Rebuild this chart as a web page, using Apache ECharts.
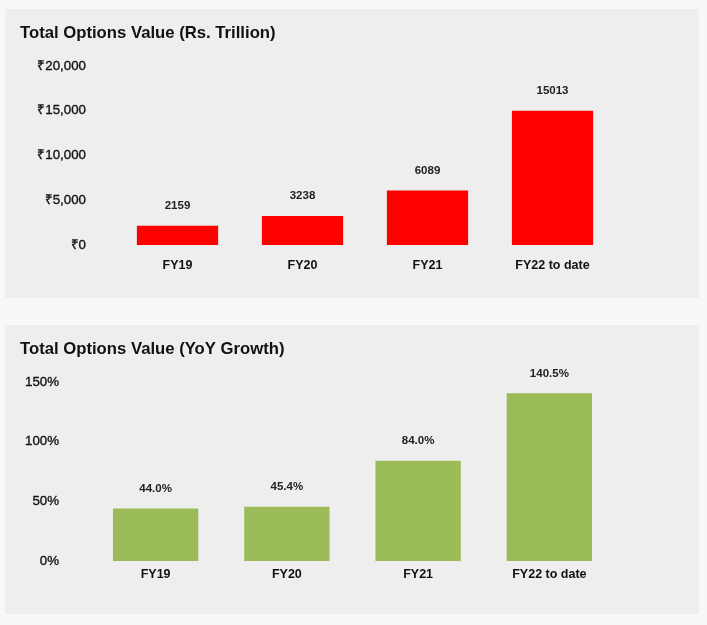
<!DOCTYPE html>
<html><head><meta charset="utf-8">
<script src="https://cdn.jsdelivr.net/npm/echarts@6/dist/echarts.min.js"></script>
<style>html,body{margin:0;padding:0;background:#f7f8fa}#c{width:707px;height:625px}</style>
</head><body><div id="c"></div>
<script>
const categories = ['FY19', 'FY20', 'FY21', 'FY22 to date'];
const totalValue = [2159, 3238, 6089, 15013];
const yoyGrowth = [44.0, 45.4, 84.0, 140.5];
const valueTicks = [0, 5000, 10000, 15000, 20000];
const growthTicks = [0, 50, 100, 150];

const chart = echarts.init(document.getElementById('c'), null, {renderer: 'canvas'});
const font = 'Liberation Sans, Arial, sans-serif';
const yLabel = {fontFamily: font, fontSize: 13.3, color: '#111', textBorderColor: '#111', textBorderWidth: 0.35};
chart.setOption({
  backgroundColor: '#f7f8fa',
  animation: false,
  graphic: [
    {type: 'rect', shape: {x: 5, y: 9, width: 694, height: 289}, style: {fill: '#eeeeee'}, z: -10},
    {type: 'rect', shape: {x: 5, y: 325, width: 694, height: 289}, style: {fill: '#eeeeee'}, z: -10}
  ],
  title: [
    {text: 'Total Options Value (Rs. Trillion)', left: 15, top: 20, textStyle: {fontFamily: font, fontSize: 16.7, fontWeight: 'bold', color: '#111'}},
    {text: 'Total Options Value (YoY Growth)', left: 15, top: 336, textStyle: {fontFamily: font, fontSize: 16.7, fontWeight: 'bold', color: '#111'}}
  ],
  grid: [
    {left: 115, top: 66, width: 500, height: 179},
    {left: 90, top: 382, width: 525, height: 179}
  ],
  xAxis: [
    {type: 'category', gridIndex: 0, data: categories, axisLine: {show: false}, axisTick: {show: false},
     axisLabel: {margin: 14, fontFamily: font, fontSize: 12.5, fontWeight: 'bold', color: '#111'}},
    {type: 'category', gridIndex: 1, data: categories, axisLine: {show: false}, axisTick: {show: false},
     axisLabel: {margin: 7, fontFamily: font, fontSize: 12.5, fontWeight: 'bold', color: '#111'}}
  ],
  yAxis: [
    {type: 'value', gridIndex: 0, min: valueTicks[0], max: valueTicks[valueTicks.length - 1], interval: 5000,
     splitLine: {show: false}, axisLine: {show: false}, axisTick: {show: false},
     axisLabel: Object.assign({margin: 29, formatter: v => '₹' + v.toLocaleString('en-US')}, yLabel)},
    {type: 'value', gridIndex: 1, min: growthTicks[0], max: growthTicks[growthTicks.length - 1], interval: 50,
     splitLine: {show: false}, axisLine: {show: false}, axisTick: {show: false},
     axisLabel: Object.assign({margin: 31, formatter: v => v + '%'}, yLabel)}
  ],
  series: [
    {type: 'bar', xAxisIndex: 0, yAxisIndex: 0, data: totalValue, barWidth: '65%',
     itemStyle: {color: '#ff0000'},
     label: {show: true, position: 'top', distance: 14, fontFamily: font, fontSize: 11.5, fontWeight: 'bold', color: '#222'}},
    {type: 'bar', xAxisIndex: 1, yAxisIndex: 1, data: yoyGrowth, barWidth: '65%',
     itemStyle: {color: '#9bbb59'},
     label: {show: true, position: 'top', distance: 14, fontFamily: font, fontSize: 11.5, fontWeight: 'bold', color: '#222',
       formatter: p => p.value.toFixed(1) + '%'}}
  ]
});
</script></body></html>
